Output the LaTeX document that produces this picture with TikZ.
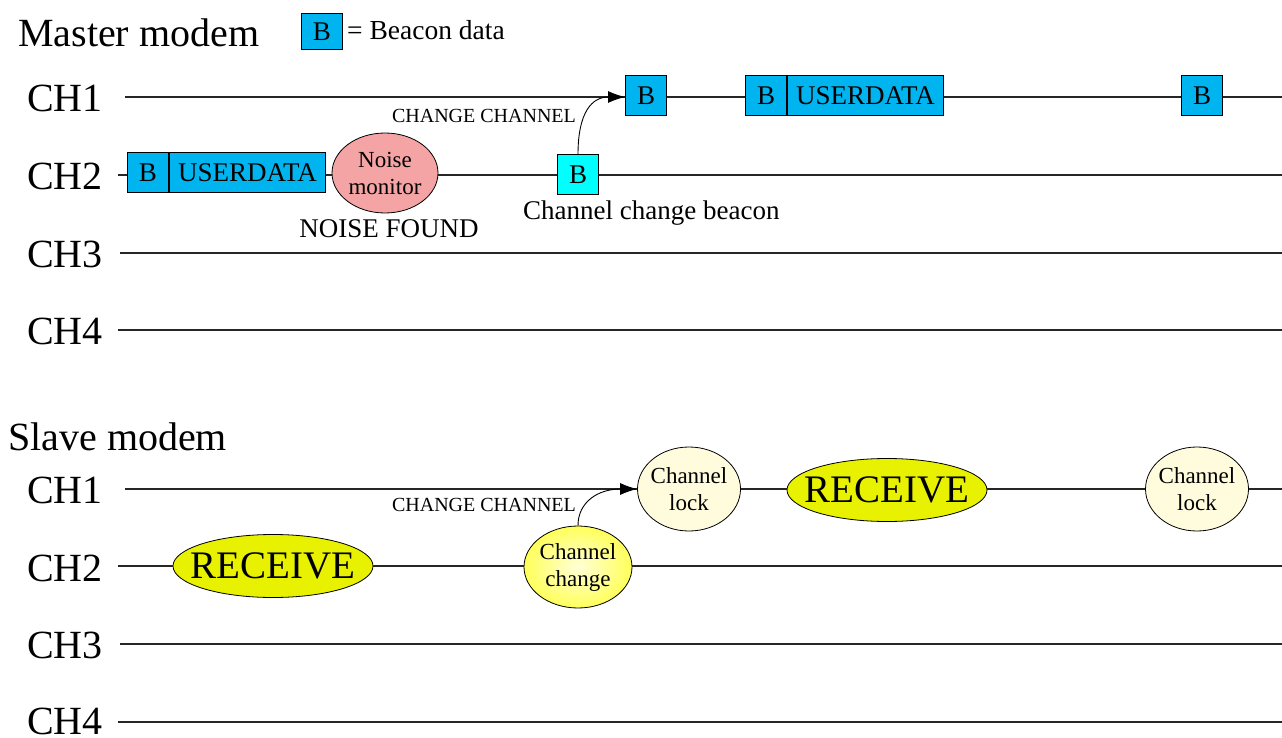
\documentclass[tikz,border=0pt]{standalone}
\usepackage{fontspec}
\setmainfont{Liberation Serif}
\usetikzlibrary{shapes.geometric,arrows.meta}
\definecolor{beaconblue}{RGB}{0,180,240}
\definecolor{beaconcyan}{RGB}{0,255,255}
\definecolor{noisepink}{RGB}{244,164,164}
\definecolor{recyellow}{RGB}{232,242,0}
\definecolor{lockcream}{RGB}{255,252,222}
\definecolor{ccyellow}{RGB}{255,255,90}
\definecolor{ccinner}{RGB}{255,255,215}
\newcommand{\fsz}[1]{\fontsize{#1}{#1}\selectfont}
\begin{document}
\begin{tikzpicture}[x=1pt,y=-1pt,
  chline/.style={line width=1.3pt, draw=black!85},
  chlabel/.style={anchor=west, inner sep=0pt, font=\fsz{40}},
  title/.style={anchor=west, inner sep=0pt, font=\fsz{40}},
  bbox/.style={draw, line width=1pt, fill=beaconblue, minimum width=41pt, minimum height=40pt, inner sep=0pt, font=\fsz{27}},
  udbox/.style={bbox, minimum width=156pt},
  cbox/.style={bbox, fill=beaconcyan},
  shapebase/.style={ellipse, draw, line width=0.8pt, inner sep=0pt},
  noise/.style={shapebase, fill=noisepink, minimum width=106pt, minimum height=80pt},
  receive/.style={shapebase, fill=recyellow, minimum width=200pt, minimum height=63pt},
  lock/.style={shapebase, fill=lockcream, minimum width=103pt, minimum height=84pt},
  chchange/.style={shapebase, inner color=ccinner, outer color=ccyellow, minimum width=108pt, minimum height=82pt},
  intext/.style={inner sep=0pt, align=center, font=\fontsize{23}{27}\selectfont},
  rectext/.style={inner sep=0pt, font=\fsz{39}},
  small/.style={inner sep=0pt, font=\fsz{20}},
  note/.style={inner sep=0pt, font=\fsz{27}},
  chgarrow/.style={line width=0.9pt, -{Latex[length=17pt,width=12pt]}}
]
\useasboundingbox (0,0) rectangle (1282,738);
\fill[white] (0,0) rectangle (1282,738);

% ---------- Master modem ----------
\node[title] (mtitle) at (18,33) {Master modem};
\node[bbox, minimum height=36pt] (legb) at (322,32) {B};
\node[anchor=west, inner sep=0pt, font=\fsz{27.5}] (legt) at (347,30) {= Beacon data};

\node[chlabel] (mch1) at (27,98) {CH1};
\node[chlabel] (mch2) at (27,176) {CH2};
\node[chlabel] (mch3) at (27,254) {CH3};
\node[chlabel] (mch4) at (27,331) {CH4};

% CH1
\coordinate (m1s) at (125,97);
\coordinate (m1e) at (1282,97);
\node[bbox] (mb1) at (646,96) {B};
\node[bbox] (mb2) at (766,96) {B};
\node[udbox, anchor=west] (mud2) at (mb2.east) {USERDATA};
\node[bbox] (mb3) at (1202,96) {B};
\draw[chline] (m1s) -- (m1s -| mb1.west) (mb1.east |- m1s) -- (mb2.west |- m1s)
              (mud2.east |- m1s) -- (mb3.west |- m1s) (mb3.east |- m1s) -- (m1e);

% CH2
\coordinate (m2s) at (118,175);
\coordinate (m2e) at (1282,175);
\node[bbox] (mb0) at (148,173) {B};
\node[udbox, anchor=west] (mud0) at (mb0.east) {USERDATA};
\node[noise] (noise) at (385,173) {};
\node[intext] (noiset) at (noise) {Noise\\monitor};
\node[cbox] (mcb) at (578,175) {B};
\draw[chline] (m2s) -- (m2s -| mb0.west) (mud0.east |- m2s) -- (noise.west |- m2s)
              (noise.east |- m2s) -- (mcb.west |- m2s) (mcb.east |- m2s) -- (m2e);

\node[note] (nf) at (389,229) {NOISE FOUND};
\node[note, anchor=west] (ccb) at (523,213) {Channel change beacon};

% CH3, CH4
\coordinate (m3s) at (120,253);
\coordinate (m3e) at (1282,253);
\coordinate (m4s) at (118,330);
\coordinate (m4e) at (1282,330);
\draw[chline] (m3s) -- (m3e);
\draw[chline] (m4s) -- (m4e);

% change channel arrow
\draw[chgarrow] (mcb.north) .. controls (578,112) and (592,97) .. (mb1.west |- m1s);
\node[small] (mcc) at (484,116) {CHANGE CHANNEL};

% ---------- Slave modem ----------
\node[title] (stitle) at (8,437) {Slave modem};

\node[chlabel] (sch1) at (27,490) {CH1};
\node[chlabel] (sch2) at (27,568) {CH2};
\node[chlabel] (sch3) at (27,645) {CH3};
\node[chlabel] (sch4) at (27,721) {CH4};

% CH1
\coordinate (s1s) at (125,489);
\coordinate (s1e) at (1282,489);
\node[lock] (lock1) at (689,489) {};
\node[intext] (lock1t) at (lock1) {Channel\\lock};
\node[receive] (rec2) at (887,490) {};
\node[rectext] (rec2t) at (rec2) {RECEIVE};
\node[lock] (lock2) at (1197,489) {};
\node[intext] (lock2t) at (lock2) {Channel\\lock};
\draw[chline] (s1s) -- (s1s -| lock1.west) (lock1.east |- s1s) -- (rec2.west |- s1s)
              (rec2.east |- s1s) -- (lock2.west |- s1s) (lock2.east |- s1s) -- (s1e);

% CH2
\coordinate (s2s) at (118,566);
\coordinate (s2e) at (1282,566);
\node[receive] (rec1) at (273,566) {};
\node[rectext] (rec1t) at (rec1) {RECEIVE};
\node[chchange] (cc) at (578,567) {};
\node[intext] (cct) at (cc) {Channel\\change};
\draw[chline] (s2s) -- (s2s -| rec1.west) (rec1.east |- s2s) -- (cc.west |- s2s)
              (cc.east |- s2s) -- (s2e);

% CH3, CH4
\coordinate (s3s) at (120,644);
\coordinate (s3e) at (1282,644);
\coordinate (s4s) at (118,722);
\coordinate (s4e) at (1282,722);
\draw[chline] (s3s) -- (s3e);
\draw[chline] (s4s) -- (s4e);

% change channel arrow
\draw[chgarrow] (cc.north) .. controls (578,502) and (598,489) .. (lock1.west);
\node[small] (scc) at (484,505) {CHANGE CHANNEL};
\end{tikzpicture}
\end{document}
